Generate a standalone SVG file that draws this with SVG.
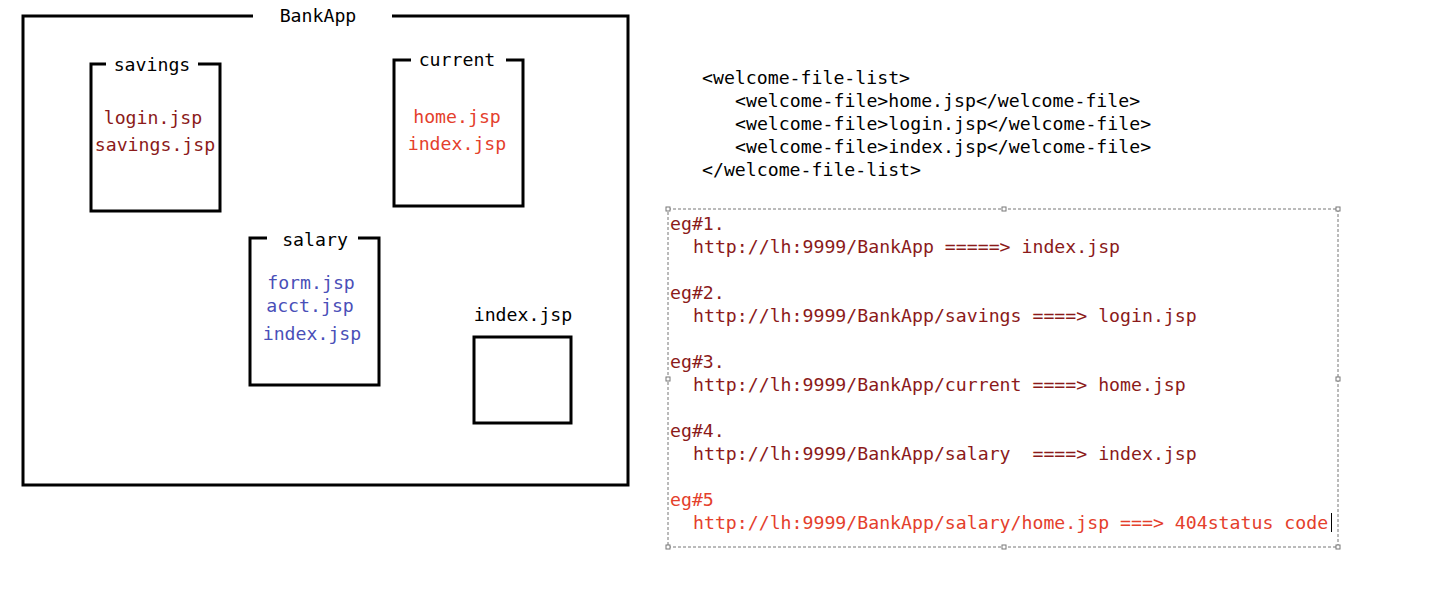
<svg xmlns="http://www.w3.org/2000/svg" width="1432" height="596" viewBox="0 0 1432 596">
<style>
text{font-family:"DejaVu Sans Mono","Liberation Mono",monospace;font-size:18.2px;}
.frame{fill:none;stroke:#000;stroke-width:3;}
.lbl{fill:#000;text-anchor:middle;}
.mid{text-anchor:middle;}
.dr{fill:#8b1a1a;}
.rd{fill:#e4402c;}
.bl{fill:#4a4fb8;}
.blk{fill:#000;}
.sel{fill:none;stroke:#777;stroke-width:1;stroke-dasharray:3,2;}
.h{fill:#fff;stroke:#777;stroke-width:1;}
</style>
<rect width="1432" height="596" fill="#fff"/>
<g id="bankapp">
<path class="frame" d="M253,16 H23 V485 H628 V16 H392"/>
<text class="lbl" x="318" y="22">BankApp</text>
</g>
<g id="savings">
<path class="frame" d="M106,64 H91 V211 H220 V64 H198"/>
<text class="lbl" x="152" y="71">savings</text>
<text class="mid dr" x="153" y="124">login.jsp</text>
<text class="mid dr" x="155" y="151">savings.jsp</text>
</g>
<g id="current">
<path class="frame" d="M411,60 H394 V206 H523 V60 H506"/>
<text class="lbl" x="457" y="66">current</text>
<text class="mid rd" x="457" y="123">home.jsp</text>
<text class="mid rd" x="457" y="150">index.jsp</text>
</g>
<g id="salary">
<path class="frame" d="M267,238 H250 V385 H379 V238 H358"/>
<text class="lbl" x="315" y="246">salary</text>
<text class="mid bl" x="311" y="289">form.jsp</text>
<text class="mid bl" x="310" y="312">acct.jsp</text>
<text class="mid bl" x="312" y="340">index.jsp</text>
</g>
<g id="index">
<text class="lbl" x="523" y="321">index.jsp</text>
<rect class="frame" x="474" y="337" width="97" height="86"/>
</g>
<g id="welcome">
<text class="blk" x="702" y="84">&lt;welcome-file-list&gt;</text>
<text class="blk" x="735" y="107">&lt;welcome-file&gt;home.jsp&lt;/welcome-file&gt;</text>
<text class="blk" x="735" y="130">&lt;welcome-file&gt;login.jsp&lt;/welcome-file&gt;</text>
<text class="blk" x="735" y="153">&lt;welcome-file&gt;index.jsp&lt;/welcome-file&gt;</text>
<text class="blk" x="702" y="176">&lt;/welcome-file-list&gt;</text>
</g>
<g id="examples">
<rect class="sel" x="668" y="209" width="670" height="338"/>
<rect class="h" x="666" y="207" width="4" height="4"/>
<rect class="h" x="1002" y="207" width="4" height="4"/>
<rect class="h" x="1336" y="207" width="4" height="4"/>
<rect class="h" x="666" y="377" width="4" height="4"/>
<rect class="h" x="1336" y="377" width="4" height="4"/>
<rect class="h" x="666" y="545" width="4" height="4"/>
<rect class="h" x="1002" y="545" width="4" height="4"/>
<rect class="h" x="1336" y="545" width="4" height="4"/>
<text class="dr" x="670" y="230">eg#1.</text>
<text class="dr" x="693" y="253">http://lh:9999/BankApp =====&gt; index.jsp</text>
<text class="dr" x="670" y="299">eg#2.</text>
<text class="dr" x="693" y="322">http://lh:9999/BankApp/savings ====&gt; login.jsp</text>
<text class="dr" x="670" y="368">eg#3.</text>
<text class="dr" x="693" y="391">http://lh:9999/BankApp/current ====&gt; home.jsp</text>
<text class="dr" x="670" y="437">eg#4.</text>
<text class="dr" x="693" y="460" xml:space="preserve">http://lh:9999/BankApp/salary  ====&gt; index.jsp</text>
<text class="rd" x="670" y="506">eg#5</text>
<text class="rd" x="693" y="529">http://lh:9999/BankApp/salary/home.jsp ===&gt; 404status code</text>
<line x1="1331.5" y1="513" x2="1331.5" y2="532" stroke="#000" stroke-width="1"/>
</g>
</svg>
